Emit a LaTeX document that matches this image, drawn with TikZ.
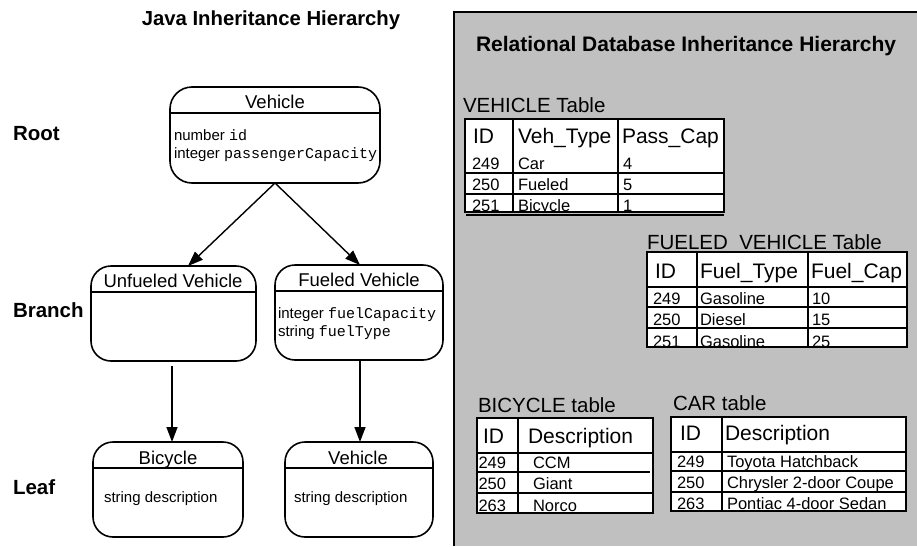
\documentclass[tikz,border=0pt]{standalone}
\usepackage{fontspec}
\setmainfont{Liberation Sans}
\setmonofont{Liberation Mono}
\usetikzlibrary{arrows.meta,calc}
\definecolor{panelgray}{RGB}{192,192,192}
\begin{document}
\begin{tikzpicture}[x=1pt,y=-1pt,
  every node/.style={inner sep=0pt, outer sep=0pt},
  javatitle/.style={font=\fontsize{20.3}{24}\selectfont\bfseries, anchor=base},
  dbtitle/.style={font=\fontsize{21}{25}\selectfont\bfseries, anchor=base west},
  level/.style={font=\fontsize{20.5}{24}\selectfont\bfseries, anchor=base west},
  cls/.style={draw, line width=1.6pt, rounded corners=22pt},
  clshead/.style={font=\fontsize{18.5}{22}\selectfont, anchor=base},
  attr/.style={font=\fontsize{15}{18}\selectfont, anchor=base west},
  tbltitle/.style={font=\fontsize{20.5}{24}\selectfont, anchor=base west},
  th/.style={font=\fontsize{21}{25}\selectfont, anchor=base west},
  td/.style={font=\fontsize{16.5}{20}\selectfont, anchor=base west},
  tbl/.style={draw, fill=white, line width=1.6pt},
  tline/.style={line width=1.4pt},
  hline/.style={line width=1.4pt},
  arr/.style={line width=1.4pt, -{Triangle[length=15pt,width=11pt]}}
]
\useasboundingbox (0,0) rectangle (917,546);

% ---------- right panel ----------
\fill[panelgray] (454,12) rectangle (917,546);
\draw[line width=2pt] (454,546) -- (454,12) -- (917,12);

% ---------- titles ----------
\node[javatitle] (jt) at (271,25.4) {Java Inheritance Hierarchy};
\node[dbtitle] (dt) at (476,51.5) {Relational Database Inheritance Hierarchy};

% ---------- level labels ----------
\node[level] (lroot) at (13,140.4) {Root};
\node[level] (lbranch) at (13,317.4) {Branch};
\node[level] (lleaf) at (13,494.4) {Leaf};

% ---------- class boxes ----------
\node[cls, minimum width=210pt, minimum height=96pt] (root) at (275,135) {};
\draw[hline] (root.west |- 0,113) -- (root.east |- 0,113);
\node[clshead] (rootT) at (275,108.6) {Vehicle};
\node[attr] (rootA1) at (174,140.4) {number \texttt{id}};
\node[attr] (rootA2) at (174,158.4) {integer \texttt{passengerCapacity}};

\node[cls, rounded corners=20pt, minimum width=165pt, minimum height=95pt] (unf) at (173.5,313.5) {};
\draw[hline] (unf.west |- 0,292) -- (unf.east |- 0,292);
\node[clshead] (unfT) at (173,287.6) {Unfueled Vehicle};

\node[cls, rounded corners=20pt, minimum width=168pt, minimum height=95pt] (fue) at (359,312.5) {};
\draw[hline] (fue.west |- 0,291) -- (fue.east |- 0,291);
\node[clshead] (fueT) at (359,286.6) {Fueled Vehicle};
\node[attr] (fueA1) at (278,318.4) {integer \texttt{fuelCapacity}};
\node[attr] (fueA2) at (278,336.4) {string \texttt{fuelType}};

\node[cls, rounded corners=20pt, minimum width=150pt, minimum height=95pt] (bic) at (168,489.5) {};
\draw[hline] (bic.west |- 0,468) -- (bic.east |- 0,468);
\node[clshead] (bicT) at (168,464.6) {Bicycle};
\node[attr] (bicA) at (104,502.4) {string description};

\node[cls, rounded corners=20pt, minimum width=148pt, minimum height=95pt] (leaf) at (359,489.5) {};
\draw[hline] (leaf.west |- 0,468) -- (leaf.east |- 0,468);
\node[clshead] (leafT) at (358,464.6) {Vehicle};
\node[attr] (leafA) at (294,502.4) {string description};

% ---------- arrows ----------
\draw[arr] (root.south) -- ($(unf.north)+(14.5,0)$);
\draw[arr] (root.south) -- ($(fue.north)+(1,0)$);
\draw[arr] ($(unf.south)+(-1.5,5)$) -- ($(bic.north)+(4,0)$);
\draw[arr] ($(fue.south)+(1,0)$) -- ($(leaf.north)+(1,0)$);

% ---------- VEHICLE table ----------
\node[tbltitle] (vtT) at (463,112.4) {VEHICLE Table};
\draw[line width=1.2pt] (466,215) -- (724,215);
\fill[white] (465,119) rectangle (724,212);
\begin{scope}
\clip (465,119) rectangle (724,212);
\node[th] (vh1) at (473,143.5) {ID};
\node[th] (vh2) at (518,143.5) {Veh\_Type};
\node[th] (vh3) at (622,143.5) {Pass\_Cap};
\node[td] (v11) at (472,169) {249};
\node[td] (v12) at (518,169) {Car};
\node[td] (v13) at (623,169) {4};
\node[td] (v21) at (472,190) {250};
\node[td] (v22) at (518,190) {Fueled};
\node[td] (v23) at (623,190) {5};
\node[td] (v31) at (472,211.5) {251};
\node[td] (v32) at (518,211.5) {Bicycle};
\node[td] (v33) at (623,211.5) {1};
\end{scope}
\draw[tline] (465,173) -- (724,173);
\draw[tline] (465,194) -- (724,194);
\draw[tline] (513,119) -- (513,212);
\draw[tline] (618,119) -- (618,212);
\draw[line width=1.6pt] (465,119) rectangle (724,212);

% ---------- FUELED_VEHICLE table ----------
\node[tbltitle] (ftT) at (647,249.4) {FUELED\_VEHICLE Table};
\fill[white] (647,252) rectangle (907,347);
\begin{scope}
\clip (647,252) rectangle (907,347);
\node[th] (fh1) at (655,278.5) {ID};
\node[th] (fh2) at (700,278.5) {Fuel\_Type};
\node[th] (fh3) at (811,278.5) {Fuel\_Cap};
\node[td] (f11) at (653,304) {249};
\node[td] (f12) at (700,304) {Gasoline};
\node[td] (f13) at (812,304) {10};
\node[td] (f21) at (653,325) {250};
\node[td] (f22) at (700,325) {Diesel};
\node[td] (f23) at (812,325) {15};
\node[td] (f31) at (653,347) {251};
\node[td] (f32) at (700,347) {Gasoline};
\node[td] (f33) at (812,347) {25};
\end{scope}
\draw[tline] (647,287) -- (907,287);
\draw[tline] (647,307) -- (907,307);
\draw[tline] (647,328) -- (907,328);
\draw[tline] (697,252) -- (697,347);
\draw[tline] (808,252) -- (808,347);
\draw[line width=1.6pt] (647,252) rectangle (907,347);

% ---------- BICYCLE table ----------
\node[tbltitle] (btT) at (478,412.4) {BICYCLE table};
\fill[white] (477,418) rectangle (653,513);
\begin{scope}
\clip (477,418) rectangle (653,513);
\node[th] (bh1) at (483,443.5) {ID};
\node[th] (bh2) at (528,443.5) {Description};
\node[td] (b11) at (478.5,468) {249};
\node[td] (b12) at (533,468) {CCM};
\node[td] (b21) at (478.5,489) {250};
\node[td] (b22) at (533,489) {Giant};
\node[td] (b31) at (478.5,511.5) {263};
\node[td] (b32) at (533,511.5) {Norco};
\end{scope}
\draw[tline] (477,453) -- (653,453);
\draw[tline] (477,472) -- (650,472);
\draw[tline] (477,493) -- (653,493);
\draw[tline] (518,418) -- (518,513);
\draw[line width=1.6pt] (477,418) rectangle (653,513);

% ---------- CAR table ----------
\node[tbltitle] (ctT) at (673,410.4) {CAR table};
\fill[white] (671,417) rectangle (906,511);
\begin{scope}
\clip (671,417) rectangle (906,511);
\node[th] (ch1) at (680,440.5) {ID};
\node[th] (ch2) at (725,440.5) {Description};
\node[td] (c11) at (677,467) {249};
\node[td] (c12) at (727,467) {Toyota Hatchback};
\node[td] (c21) at (677,488) {250};
\node[td] (c22) at (727,488) {Chrysler 2-door Coupe};
\node[td] (c31) at (677,509) {263};
\node[td] (c32) at (727,509) {Pontiac 4-door Sedan};
\end{scope}
\draw[tline] (671,452) -- (906,452);
\draw[tline] (671,471) -- (906,471);
\draw[tline] (671,492) -- (906,492);
\draw[tline] (722,417) -- (722,511);
\draw[line width=1.6pt] (671,417) rectangle (906,511);
\end{tikzpicture}
\end{document}
